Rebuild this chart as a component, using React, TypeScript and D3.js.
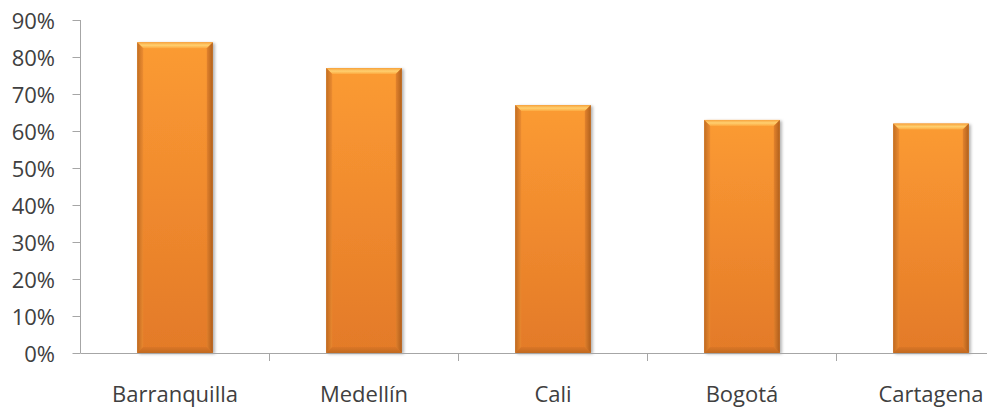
import React from "react";
import * as d3 from "d3";

const categories = ["Barranquilla", "Medellín", "Cali", "Bogotá", "Cartagena"];
const values = [0.84, 0.77, 0.67, 0.63, 0.62];
const yTicks = [0, 0.1, 0.2, 0.3, 0.4, 0.5, 0.6, 0.7, 0.8, 0.9];

const W = 987;
const H = 410;
const axisX = 80.5;
const zeroY = 353;
const topY = 20;
const step = 189;

export default function App() {
  const y = d3.scaleLinear().domain([0, 0.9]).range([zeroY, topY]);
  const x = d3
    .scaleBand<string>()
    .domain(categories)
    .range([axisX, axisX + step * categories.length])
    .paddingInner(0.6)
    .paddingOuter(0.3);
  const bw = x.bandwidth();
  const bv = 6;
  const font = "'Open Sans', 'Noto Sans', sans-serif";
  const catTicks = d3.range(1, categories.length + 1).map((i) => axisX + i * step);

  return (
    <svg
      width={W}
      height={H}
      style={{ position: "absolute", left: 0, top: 0, background: "#fff" }}
    >
      <defs>
        <linearGradient id="body" x1="0" y1="0" x2="0" y2="1">
          <stop offset="0" stopColor="#fb9b32" />
          <stop offset="0.5" stopColor="#f08a2e" />
          <stop offset="1" stopColor="#e37a28" />
        </linearGradient>
        <linearGradient id="topb" x1="0" y1="0" x2="0" y2="1">
          <stop offset="0" stopColor="#f7a23c" />
          <stop offset="0.5" stopColor="#ffd070" />
          <stop offset="1" stopColor="#fca83e" />
        </linearGradient>
        <linearGradient id="leftb" x1="0" y1="0" x2="1" y2="0">
          <stop offset="0" stopColor="#b8661f" />
          <stop offset="1" stopColor="#ea8a30" />
        </linearGradient>
        <linearGradient id="rightb" x1="0" y1="0" x2="1" y2="0">
          <stop offset="0" stopColor="#e0802c" />
          <stop offset="1" stopColor="#a85a1a" />
        </linearGradient>
        <linearGradient id="botb" x1="0" y1="0" x2="0" y2="1">
          <stop offset="0" stopColor="#d97526" />
          <stop offset="1" stopColor="#b8661f" />
        </linearGradient>
        <filter id="sh" x="-20%" y="-5%" width="140%" height="110%">
          <feDropShadow dx="2" dy="1" stdDeviation="1.5" floodColor="#000" floodOpacity="0.3" />
        </filter>
      </defs>

      {/* y axis */}
      <line x1={axisX} x2={axisX} y1={topY} y2={zeroY} stroke="#a6a6a6" strokeWidth={1} />
      {yTicks.map((t) => (
        <g key={t}>
          <line x1={axisX - 8} x2={axisX} y1={Math.round(y(t)) + 0.5} y2={Math.round(y(t)) + 0.5} stroke="#a6a6a6" />
          <text
            x={55}
            y={y(t)}
            textAnchor="end"
            dominantBaseline="central"
            fontFamily={font}
            fontSize={22}
            fill="#404040"
          >
            {Math.round(t * 100)}%
          </text>
        </g>
      ))}

      {/* bars */}
      {categories.map((c, i) => {
        const x0 = x(c)!;
        const x1 = x0 + bw;
        const yt = y(values[i]);
        const yb = zeroY;
        return (
          <g key={c}>
            <rect x={x0} y={yt} width={bw} height={yb - yt} fill="url(#body)" filter="url(#sh)" />
            <polygon
              points={`${x0},${yt} ${x1},${yt} ${x1 - bv},${yt + bv} ${x0 + bv},${yt + bv}`}
              fill="url(#topb)"
            />
            <polygon
              points={`${x0},${yt} ${x0 + bv},${yt + bv} ${x0 + bv},${yb - bv} ${x0},${yb}`}
              fill="url(#leftb)"
              opacity={0.85}
            />
            <polygon
              points={`${x1},${yt} ${x1 - bv},${yt + bv} ${x1 - bv},${yb - bv} ${x1},${yb}`}
              fill="url(#rightb)"
              opacity={0.9}
            />
            <polygon
              points={`${x0},${yb} ${x1},${yb} ${x1 - bv},${yb - bv} ${x0 + bv},${yb - bv}`}
              fill="url(#botb)"
              opacity={0.8}
            />
          </g>
        );
      })}

      {/* x axis */}
      <line x1={axisX} x2={W} y1={zeroY + 0.5} y2={zeroY + 0.5} stroke="#a6a6a6" />
      {catTicks.map((t, i) => (
        <line key={i} x1={t} x2={t} y1={zeroY} y2={zeroY + 8} stroke="#a6a6a6" />
      ))}
      {categories.map((c) => (
        <text
          key={c}
          x={x(c)! + bw / 2}
          y={402}
          textAnchor="middle"
          fontFamily={font}
          fontSize={22}
          fill="#404040"
        >
          {c}
        </text>
      ))}
    </svg>
  );
}
